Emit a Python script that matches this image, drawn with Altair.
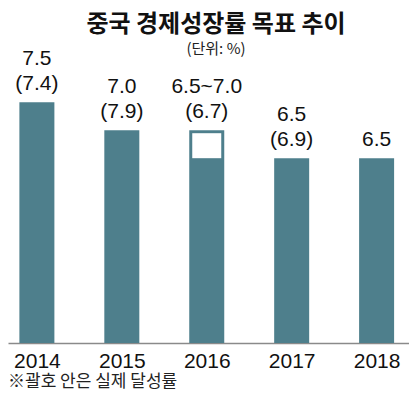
import altair as alt
import pandas as pd

# ---- data ----
years = [2014, 2015, 2016, 2017, 2018]
target_high = [7.5, 7.0, 7.0, 6.5, 6.5]
target_low = [7.5, 7.0, 6.5, 6.5, 6.5]
target_labels = ["7.5", "7.0", "6.5~7.0", "6.5", "6.5"]
actual = [7.4, 7.9, 6.7, 6.9, None]

title_text = "중국 경제성장률 목표 추이"
unit_text = "(단위: %)"
note_text = "※괄호 안은 실제 달성률"

line1, line2 = [], []
for lbl, a in zip(target_labels, actual):
    if a is None:
        line1.append("")
        line2.append(lbl)
    else:
        line1.append(lbl)
        line2.append(f"({a})")

df = pd.DataFrame({
    "year": years,
    "target_high": target_high,
    "target_low": target_low,
    "line1": line1,
    "line2": line2,
})

# ---- style ----
W, H = 401, 335
Y_BASE = 3.2
BAR = "#4e7f8c"
LAT = "Liberation Sans"
KR = "Noto Sans CJK KR"
TXT = "#111111"

x = alt.X(
    "year:Q",
    scale=alt.Scale(domain=[2013.7187, 2018.3226], nice=False, zero=False),
    axis=alt.Axis(
        values=years, format="d", title=None, grid=False, ticks=False, tickSize=0,
        labelFontSize=21, labelFont=LAT, labelColor=TXT, labelPadding=7,
        domainColor="#8a8a8a", domainWidth=1.5, labelFlush=False, labelOverlap=False,
    ),
)
yscale = alt.Scale(domain=[Y_BASE, 9.182], nice=False, zero=False)
y = alt.Y("target_high:Q", scale=yscale, axis=None)

base = alt.Chart(df)

bars = base.mark_bar(size=35, color=BAR).encode(x=x, y=y, y2=alt.datum(Y_BASE))

rng = base.transform_filter("datum.target_low < datum.target_high").mark_bar(
    size=29, color="white", yOffset=3
).encode(x=x, y=y, y2=alt.Y2("target_low:Q"))

lab2 = base.mark_text(
    dy=-12, baseline="alphabetic", align="center", fontSize=21, font=LAT, color=TXT
).encode(x=x, y=y, text="line2:N")

lab1 = base.mark_text(
    dy=-37, baseline="alphabetic", align="center", fontSize=21, font=LAT, color=TXT
).encode(x=x, y=y, text="line1:N")

title = alt.Chart(pd.DataFrame({"t": [title_text]})).mark_text(
    font=KR, fontSize=24, fontWeight="bold", color=TXT, align="center", baseline="alphabetic"
).encode(x=alt.value(208), y=alt.value(24), text="t:N")

unit = alt.Chart(pd.DataFrame({"t": [unit_text]})).mark_text(
    font=KR, fontSize=15, color="#222222", align="center", baseline="alphabetic"
).encode(x=alt.value(208), y=alt.value(46), text="t:N")

note = alt.Chart(pd.DataFrame({"t": [note_text]})).mark_text(
    font=KR, fontSize=17, color="#222222", align="left", baseline="alphabetic"
).encode(x=alt.value(0), y=alt.value(379), text="t:N")

chart = alt.layer(bars, rng, lab2, lab1, title, unit, note).properties(
    width=W,
    height=H,
    autosize=alt.AutoSizeParams(type="none"),
    padding={"left": 0, "top": 0, "right": 0, "bottom": 47},
    background="white",
).configure_view(stroke=None)

chart.save("out.html", embed_options={"renderer": "svg", "actions": False})
